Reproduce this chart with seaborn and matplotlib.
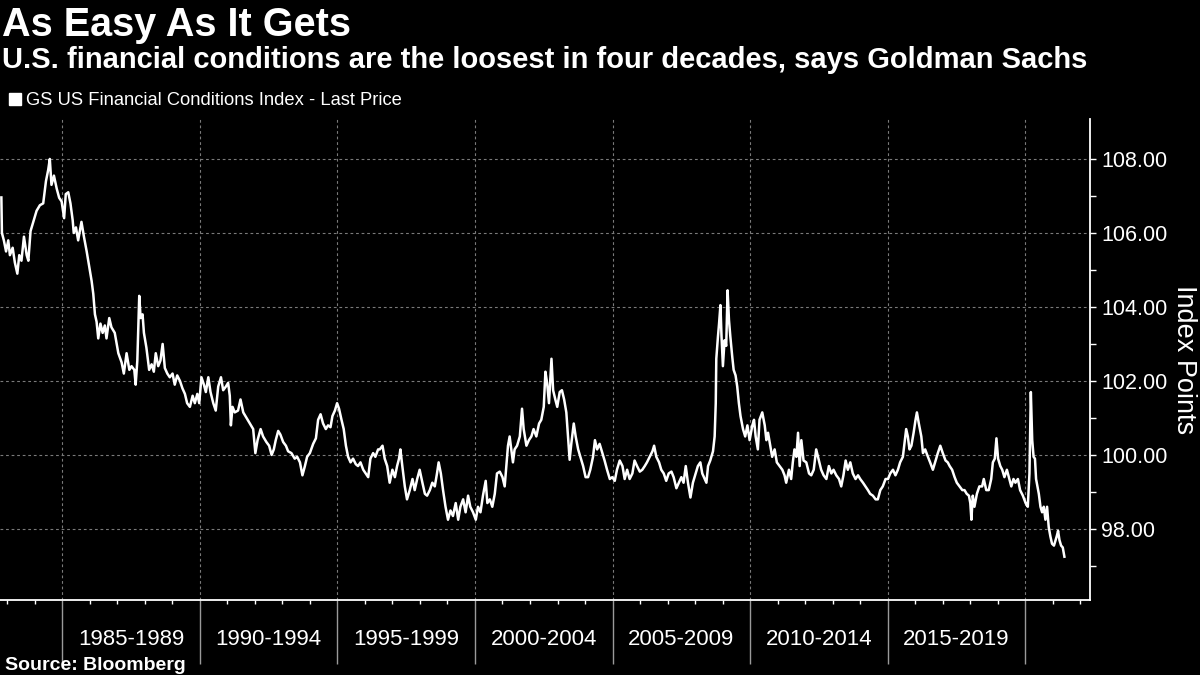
import matplotlib
matplotlib.use("Agg")
import matplotlib.pyplot as plt
import seaborn as sns
import pandas as pd
from matplotlib.ticker import MultipleLocator, FixedLocator
from matplotlib.lines import Line2D
from matplotlib import font_manager

# ---------------- data ----------------
years_a = [1982.79, 1982.81, 1982.88, 1982.96, 1983.04, 1983.10, 1983.20, 1983.28, 1983.37, 1983.44,
           1983.52, 1983.61, 1983.71, 1983.77, 1983.85, 1983.95, 1984.07, 1984.19, 1984.31, 1984.41,
           1984.49, 1984.55, 1984.61, 1984.70, 1984.80, 1984.89, 1984.98, 1985.07, 1985.13, 1985.22,
           1985.30, 1985.38, 1985.42, 1985.50, 1985.58, 1985.70, 1985.79, 1985.89, 1985.98, 1986.07,
           1986.13, 1986.19, 1986.25, 1986.31, 1986.39, 1986.47, 1986.55, 1986.61, 1986.71, 1986.79,
           1986.91, 1987.04, 1987.16, 1987.24, 1987.34, 1987.44, 1987.52, 1987.62, 1987.67, 1987.73,
           1987.80, 1987.85, 1987.92, 1987.97, 1988.06, 1988.16, 1988.25, 1988.33, 1988.40, 1988.49,
           1988.57, 1988.65, 1988.73, 1988.82, 1988.91, 1989.01, 1989.09, 1989.18, 1989.28, 1989.37,
           1989.46, 1989.54]
fci_a = [106.96, 106.0, 105.8, 105.5, 105.8, 105.4, 105.6, 105.2, 104.9, 105.4,
         105.25, 105.9, 105.4, 105.25, 106.05, 106.3, 106.6, 106.75, 106.8, 107.4,
         107.7, 108.0, 107.3, 107.55, 107.2, 106.95, 106.85, 106.4, 107.05, 107.1,
         106.8, 106.35, 106.0, 106.15, 105.8, 106.3, 105.9, 105.5, 105.1, 104.7,
         104.35, 103.8, 103.6, 103.15, 103.55, 103.3, 103.5, 103.15, 103.7, 103.45,
         103.3, 102.75, 102.5, 102.2, 102.75, 102.3, 102.4, 102.3, 101.9, 102.55,
         104.3, 103.7, 103.8, 103.3, 102.9, 102.3, 102.45, 102.25, 102.75, 102.4,
         102.55, 103.0, 102.35, 102.2, 102.1, 102.2, 101.9, 102.15, 102.0, 101.8,
         101.65, 101.4]

years_b = [1989.64, 1989.74, 1989.82, 1989.91, 1989.98, 1990.06, 1990.15, 1990.22, 1990.31, 1990.39,
           1990.49, 1990.58, 1990.67, 1990.77, 1990.85, 1990.95, 1991.03, 1991.09, 1991.13, 1991.19,
           1991.27, 1991.39, 1991.48, 1991.58, 1991.70, 1991.82, 1991.94, 1992.02, 1992.10, 1992.21,
           1992.30, 1992.42, 1992.52, 1992.61, 1992.69, 1992.76, 1992.85, 1992.93, 1993.03, 1993.13,
           1993.21, 1993.33, 1993.45, 1993.54, 1993.64, 1993.73, 1993.82, 1993.90, 1994.00, 1994.12,
           1994.22, 1994.30, 1994.39, 1994.48, 1994.58, 1994.66, 1994.75, 1994.82, 1994.91, 1994.99,
           1995.06, 1995.15, 1995.23, 1995.31, 1995.39, 1995.48, 1995.57, 1995.67, 1995.75, 1995.84,
           1995.94, 1996.03, 1996.12, 1996.20, 1996.30, 1996.38, 1996.48]
fci_b = [101.3, 101.6, 101.4, 101.65, 101.4, 102.1, 101.9, 101.7, 102.1, 101.7,
         101.4, 101.2, 101.85, 102.1, 101.75, 101.85, 101.95, 101.6, 100.8, 101.3,
         101.15, 101.2, 101.5, 101.15, 101.0, 100.85, 100.7, 100.05, 100.4, 100.7,
         100.5, 100.35, 100.25, 100.0, 100.15, 100.4, 100.65, 100.55, 100.35, 100.25,
         100.1, 100.05, 99.9, 99.95, 99.8, 99.45, 99.7, 99.95, 100.05, 100.3,
         100.45, 100.95, 101.1, 100.85, 100.7, 100.8, 100.75, 101.05, 101.2, 101.4,
         101.25, 100.95, 100.7, 100.25, 99.95, 99.8, 99.9, 99.75, 99.7, 99.8,
         99.6, 99.5, 99.4, 99.9, 100.05, 99.95, 100.15]

years_c = [1996.54, 1996.64, 1996.72, 1996.81, 1996.90, 1997.00, 1997.09, 1997.17, 1997.24, 1997.29,
           1997.36, 1997.45, 1997.53, 1997.63, 1997.73, 1997.81, 1997.90, 1997.99, 1998.09, 1998.18,
           1998.26, 1998.36, 1998.45, 1998.54, 1998.62, 1998.68, 1998.76, 1998.84, 1998.93, 1999.02,
           1999.11, 1999.20, 1999.30, 1999.39, 1999.47, 1999.57, 1999.66, 1999.75, 1999.83, 1999.93,
           2000.03, 2000.11, 2000.20, 2000.29, 2000.39, 2000.45, 2000.54, 2000.63, 2000.72, 2000.80,
           2000.90, 2001.00, 2001.08, 2001.14, 2001.20, 2001.26, 2001.32, 2001.38, 2001.44, 2001.53,
           2001.63, 2001.71, 2001.77, 2001.87, 2001.96, 2002.05, 2002.13, 2002.23, 2002.33, 2002.41,
           2002.50, 2002.56, 2002.62, 2002.69, 2002.78, 2002.84, 2002.92, 2002.99, 2003.08, 2003.16,
           2003.24, 2003.32]
fci_c = [100.15, 100.25, 99.9, 99.7, 99.25, 99.6, 99.4, 99.7, 99.9, 100.15,
         99.7, 99.15, 98.8, 99.05, 99.35, 99.05, 99.35, 99.6, 99.25, 98.95,
         98.9, 99.05, 99.25, 99.15, 99.5, 99.8, 99.5, 99.05, 98.6, 98.25,
         98.5, 98.35, 98.7, 98.25, 98.6, 98.8, 98.45, 98.9, 98.6, 98.45,
         98.25, 98.6, 98.45, 98.9, 99.3, 98.7, 98.8, 98.6, 98.95, 99.5,
         99.55, 99.4, 99.15, 99.7, 100.25, 100.5, 100.15, 99.8, 100.15, 100.25,
         100.5, 101.25, 100.7, 100.25, 100.4, 100.5, 100.7, 100.5, 100.85, 100.95,
         101.3, 102.25, 101.95, 101.4, 102.6, 101.75, 101.5, 101.3, 101.7, 101.75,
         101.5, 101.15]

years_d = [2003.44, 2003.50, 2003.59, 2003.66, 2003.75, 2003.83, 2003.93, 2004.02, 2004.11, 2004.19,
           2004.29, 2004.36, 2004.44, 2004.53, 2004.63, 2004.71, 2004.80, 2004.90, 2004.99, 2005.08,
           2005.16, 2005.26, 2005.36, 2005.44, 2005.53, 2005.62, 2005.72, 2005.80, 2005.89, 2005.99,
           2006.08, 2006.17, 2006.25, 2006.35, 2006.45, 2006.51, 2006.59, 2006.69, 2006.77, 2006.86,
           2006.95, 2007.04, 2007.14, 2007.22, 2007.32, 2007.41, 2007.50, 2007.58, 2007.66, 2007.74,
           2007.83, 2007.92, 2008.02, 2008.10, 2008.19, 2008.26, 2008.35, 2008.41, 2008.47, 2008.55,
           2008.65, 2008.71, 2008.75, 2008.77, 2008.83, 2008.87, 2008.92, 2008.96, 2009.01, 2009.07,
           2009.13, 2009.18, 2009.23, 2009.28, 2009.35, 2009.40, 2009.47, 2009.53, 2009.59, 2009.65,
           2009.74, 2009.82, 2009.90, 2009.98, 2010.08, 2010.14, 2010.20, 2010.28]
fci_d = [99.87, 100.3, 100.85, 100.5, 100.15, 99.95, 99.7, 99.4, 99.4, 99.6,
         99.95, 100.4, 100.15, 100.3, 100.05, 99.85, 99.6, 99.35, 99.4, 99.3,
         99.6, 99.85, 99.7, 99.35, 99.6, 99.35, 99.5, 99.85, 99.7, 99.55,
         99.6, 99.7, 99.8, 99.95, 100.1, 100.25, 99.95, 99.8, 99.6, 99.5,
         99.3, 99.5, 99.55, 99.4, 99.1, 99.25, 99.4, 99.25, 99.7, 99.25,
         98.85, 99.25, 99.5, 99.7, 99.8, 99.5, 99.35, 99.25, 99.7, 99.85,
         100.1, 100.5, 101.4, 102.6, 103.2, 103.55, 104.05, 103.2, 102.4, 103.1,
         102.95, 104.45, 103.65, 103.2, 102.65, 102.3, 102.15, 101.85, 101.4, 101.05,
         100.7, 100.5, 100.8, 100.4, 100.8, 100.95, 100.5, 100.15]

years_e = [2010.34, 2010.44, 2010.53, 2010.59, 2010.65, 2010.73, 2010.80, 2010.89, 2010.97, 2011.07,
           2011.17, 2011.25, 2011.31, 2011.41, 2011.49, 2011.55, 2011.61, 2011.68, 2011.74, 2011.80,
           2011.86, 2011.94, 2012.04, 2012.14, 2012.22, 2012.31, 2012.40, 2012.50, 2012.58, 2012.67,
           2012.77, 2012.86, 2012.95, 2013.03, 2013.13, 2013.23, 2013.31, 2013.39, 2013.47, 2013.55,
           2013.64, 2013.73, 2013.83, 2013.92, 2014.00, 2014.10, 2014.19, 2014.28, 2014.36, 2014.46,
           2014.56, 2014.64, 2014.73, 2014.82, 2014.92, 2015.01, 2015.09, 2015.19, 2015.28, 2015.37,
           2015.45, 2015.55, 2015.62, 2015.67, 2015.73, 2015.79, 2015.86, 2015.94, 2016.01, 2016.06,
           2016.13, 2016.22, 2016.28, 2016.36, 2016.46, 2016.54, 2016.64, 2016.74, 2016.82, 2016.91,
           2017.00, 2017.10, 2017.18]
fci_e = [100.95, 101.15, 100.8, 100.4, 100.6, 100.25, 99.95, 100.15, 99.8, 99.7,
         99.6, 99.45, 99.25, 99.6, 99.35, 99.8, 100.15, 99.95, 100.6, 99.7,
         100.4, 99.85, 99.8, 99.5, 99.45, 99.6, 100.15, 99.85, 99.6, 99.45,
         99.35, 99.7, 99.5, 99.6, 99.45, 99.35, 99.15, 99.45, 99.85, 99.6,
         99.8, 99.5, 99.35, 99.45, 99.35, 99.25, 99.15, 99.05, 98.95, 98.9,
         98.8, 98.8, 99.05, 99.15, 99.35, 99.35, 99.5, 99.6, 99.45, 99.6,
         99.8, 99.95, 100.4, 100.7, 100.5, 100.15, 100.25, 100.6, 100.95, 101.15,
         100.85, 100.5, 100.05, 100.15, 99.95, 99.8, 99.6, 99.85, 100.05, 100.25,
         100.05, 99.85, 99.8]

years_f = [2017.25, 2017.34, 2017.43, 2017.51, 2017.61, 2017.71, 2017.79, 2017.87, 2017.95, 2018.00,
           2018.04, 2018.09, 2018.15, 2018.24, 2018.33, 2018.43, 2018.49, 2018.58, 2018.67, 2018.76,
           2018.82, 2018.89, 2018.95, 2019.01, 2019.09, 2019.16, 2019.24, 2019.33, 2019.40, 2019.49,
           2019.57, 2019.64, 2019.73, 2019.81, 2019.91, 2020.01, 2020.09, 2020.15, 2020.20, 2020.25,
           2020.30, 2020.35, 2020.39, 2020.44, 2020.49, 2020.55, 2020.61, 2020.67, 2020.73, 2020.79,
           2020.85, 2020.91, 2020.97, 2021.04, 2021.10, 2021.14, 2021.19, 2021.24, 2021.30, 2021.36,
           2021.42]
fci_f = [99.7, 99.6, 99.4, 99.25, 99.15, 99.05, 99.05, 98.95, 98.9, 98.7,
         98.25, 98.9, 98.6, 98.95, 99.15, 99.15, 99.35, 99.05, 99.05, 99.35,
         99.8, 99.9, 100.45, 99.9, 99.7, 99.6, 99.4, 99.6, 99.4, 99.15,
         99.35, 99.25, 99.35, 99.05, 98.9, 98.7, 98.6, 99.5, 101.7, 100.4,
         99.95, 99.9, 99.35, 99.15, 98.95, 98.6, 98.45, 98.6, 98.25, 98.6,
         98.05, 97.8, 97.6, 97.55, 97.7, 97.8, 97.95, 97.7, 97.55, 97.5,
         97.25]

period_starts = [1985, 1990, 1995, 2000, 2005, 2010, 2015, 2020]
period_labels = ["1985-1989", "1990-1994", "1995-1999", "2000-2004",
                 "2005-2009", "2010-2014", "2015-2019"]
y_ticks = [98, 100, 102, 104, 106, 108]
y_minor_ticks = [97, 99, 101, 103, 105, 107]

title = "As Easy As It Gets"
subtitle = "U.S. financial conditions are the loosest in four decades, says Goldman Sachs"
series_name = "GS US Financial Conditions Index - Last Price"
y_label = "Index Points"
source = "Source: Bloomberg"

# ---------------- build frame ----------------
years = years_a + years_b + years_c + years_d + years_e + years_f
fci = fci_a + fci_b + fci_c + fci_d + fci_e + fci_f
for ya, fa in [(years_a, fci_a), (years_b, fci_b), (years_c, fci_c),
               (years_d, fci_d), (years_e, fci_e), (years_f, fci_f)]:
    assert len(ya) == len(fa), (len(ya), len(fa), ya[0])
df = pd.DataFrame({"year": years, "fci": fci})

# ---------------- style ----------------
names = {f.name for f in font_manager.fontManager.ttflist}
fam = "Liberation Sans" if "Liberation Sans" in names else "DejaVu Sans"
plt.rcParams["font.family"] = [fam, "DejaVu Sans"]
plt.rcParams["text.color"] = "white"

W, H = 1200, 675
fig = plt.figure(figsize=(12, 6.75), dpi=100, facecolor="black")
ax_left, ax_right, ax_top, ax_bot = 0, 1090, 119, 600
ax = fig.add_axes([ax_left / W, 1 - ax_bot / H, (ax_right - ax_left) / W, (ax_bot - ax_top) / H])
ax.set_facecolor("black")

sns.lineplot(data=df, x="year", y="fci", ax=ax, color="white", linewidth=1.8,
             estimator=None, sort=False, legend=False)

ax.set_xlim(1982.74, 2022.35)
ax.set_ylim(96.08, 109.08)

# spines
for s in ["left", "top"]:
    ax.spines[s].set_visible(False)
for s in ["bottom", "right"]:
    ax.spines[s].set_color("white")
    ax.spines[s].set_linewidth(1.3)

# y axis on the right
ax.yaxis.tick_right()
ax.set_yticks(y_ticks)
ax.set_yticklabels([f"{v:.2f}" for v in y_ticks])
ax.yaxis.set_minor_locator(FixedLocator(y_minor_ticks))
ax.tick_params(axis="y", which="both", colors="white", length=4, width=1,
               labelsize=15.5, pad=4, left=False, right=True, labelleft=False, labelright=True)
ax.set_ylabel(y_label, rotation=270, fontsize=19.5, color="white", ha="center", va="center")
ax.yaxis.set_label_position("right")
ax.yaxis.set_label_coords(1197 / 1090, 0.5)

# x axis: long grey separators at period starts, small ticks each year
ax.set_xticks(period_starts)
ax.set_xticklabels([""] * len(period_starts))
ax.xaxis.set_minor_locator(MultipleLocator(1))
ax.tick_params(axis="x", which="major", colors="#9a9a9a", length=46, width=1, direction="out")
ax.tick_params(axis="x", which="minor", colors="white", length=3, width=1, direction="out")
ax.set_xlabel("")

sec = ax.secondary_xaxis("bottom")
sec.set_xticks([s + 2.5 for s in period_starts[:-1]], labels=period_labels)
sec.tick_params(length=0, pad=21, labelsize=16, colors="white")
sec.spines["bottom"].set_visible(False)

# grid
ax.grid(True, which="major", axis="both", color="#7a7a7a", linestyle=(0, (2.5, 2.5)), linewidth=0.8)
ax.set_axisbelow(True)

# titles
fig.text(2 / W, 1 - 36 / H, title, fontsize=28.5, fontweight="bold", color="white", va="baseline")
fig.text(2 / W, 1 - 68 / H, subtitle, fontsize=21, fontweight="bold", color="white", va="baseline")

handle = Line2D([], [], marker="s", linestyle="none", color="white", markersize=8)
fig.legend([handle], [series_name], loc="center left", bbox_to_anchor=(8 / W, 1 - 100.5 / H),
           frameon=False, borderpad=0, borderaxespad=0, handlelength=0.8, handletextpad=0.2,
           fontsize=13.2, labelcolor="white")

fig.text(5 / W, 1 - 670 / H, source, fontsize=14, fontweight="bold", color="white", va="baseline")

fig.savefig("out.png", dpi=100, facecolor="black")
